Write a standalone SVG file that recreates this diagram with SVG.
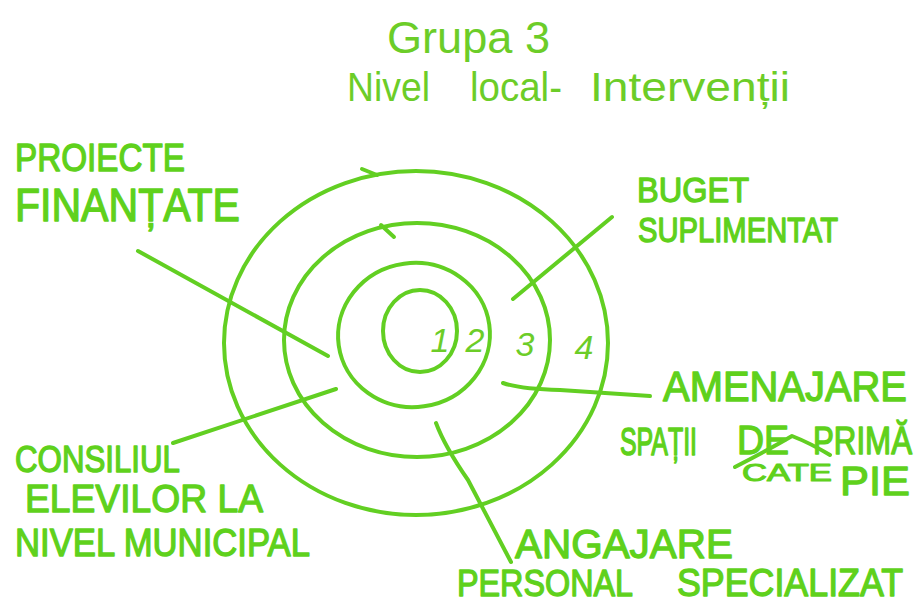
<svg xmlns="http://www.w3.org/2000/svg" width="914" height="605" viewBox="0 0 914 605">
  <style>
    .ring { fill: none; stroke: #62cf22; stroke-width: 4; stroke-linecap: round; }
    .wire { fill: none; stroke: #62cf22; stroke-width: 4; stroke-linecap: round; stroke-linejoin: round; }
    .cap { font-family: "Liberation Sans", "DejaVu Sans", sans-serif; fill: #5fd11c; stroke: #5fd11c; stroke-width: 1.3; stroke-linejoin: round; vector-effect: non-scaling-stroke; }
    .title { font-family: "Liberation Sans", "DejaVu Sans", sans-serif; fill: #6ccd28; }
    .num { font-family: "Liberation Sans", "DejaVu Sans", sans-serif; font-size: 34px; fill: #6ccd28; font-style: italic; text-anchor: middle; }
  </style>
  <rect width="914" height="605" fill="#ffffff"/>

  <!-- heading -->
  <g id="heading">
    <text class="title" x="387" y="53" font-size="44" textLength="163" lengthAdjust="spacingAndGlyphs">Grupa 3</text>
    <text class="title" x="347" y="101" font-size="40" textLength="83" lengthAdjust="spacingAndGlyphs">Nivel</text>
    <text class="title" x="470" y="101" font-size="40" textLength="92" lengthAdjust="spacingAndGlyphs">local-</text>
    <text class="title" x="590" y="101" font-size="40" textLength="200" lengthAdjust="spacingAndGlyphs">Intervenții</text>
  </g>

  <!-- concentric levels 1..4 -->
  <g id="rings">
    <g id="ring-4">
      <ellipse class="ring" cx="416" cy="343" rx="192" ry="172"/>
      <path class="ring" d="M362,169 L377,175"/>
    </g>
    <g id="ring-3">
      <ellipse class="ring" cx="417" cy="340" rx="133" ry="117"/>
      <path class="ring" d="M381,225 L394,237"/>
    </g>
    <g id="ring-2">
      <ellipse class="ring" cx="414" cy="335" rx="76" ry="72" transform="rotate(-8 414 335)"/>
    </g>
    <g id="ring-1">
      <ellipse class="ring" cx="420" cy="331" rx="37" ry="41"/>
    </g>
    <text class="num" x="440" y="352">1</text>
    <text class="num" x="475" y="352">2</text>
    <text class="num" x="525" y="356">3</text>
    <text class="num" x="584" y="359">4</text>
  </g>

  <!-- leader lines from labels into the rings -->
  <g id="connectors">
    <path class="wire" d="M138,251 L328,356"/>
    <path class="wire" d="M173,443 L336,389"/>
    <path class="wire" d="M513,299 L612,217"/>
    <path class="wire" d="M503,383 Q520,389 560,390 L650,396"/>
    <path class="wire" d="M436,423 Q445,447 468,480 L511,562"/>
  </g>

  <g id="label-proiecte">
    <text class="cap" transform="translate(15,171) scale(1,1.2)" font-size="33" textLength="170" lengthAdjust="spacingAndGlyphs">PROIECTE</text>
    <text class="cap" transform="translate(15,221) scale(1,1.15)" font-size="40" textLength="225" lengthAdjust="spacingAndGlyphs">FINANȚATE</text>
  </g>

  <g id="label-buget">
    <text class="cap" transform="translate(637,202) scale(1,1.1)" font-size="32.5" textLength="112" lengthAdjust="spacingAndGlyphs">BUGET</text>
    <text class="cap" transform="translate(638,242) scale(1,1.25)" font-size="28.5" textLength="200" lengthAdjust="spacingAndGlyphs">SUPLIMENTAT</text>
  </g>

  <g id="label-amenajare">
    <text class="cap" transform="translate(663,401) scale(1,1.06)" font-size="39.5" textLength="244" lengthAdjust="spacingAndGlyphs">AMENAJARE</text>
    <text class="cap" transform="translate(620,455) scale(1,1.6)" font-size="24" textLength="77" lengthAdjust="spacingAndGlyphs">SPAȚII</text>
    <text class="cap" transform="translate(737,454) scale(1,1.09)" font-size="37" textLength="52" lengthAdjust="spacingAndGlyphs">DE</text>
    <text class="cap" transform="translate(813,454) scale(1,1.25)" font-size="31" textLength="99" lengthAdjust="spacingAndGlyphs">PRIMĂ</text>
    <path class="wire" d="M735,467 Q770,449 792,436 Q810,443 830,455"/>
    <text class="cap" transform="translate(742,481) scale(1,0.72)" font-size="33" textLength="90" lengthAdjust="spacingAndGlyphs">CATE</text>
    <text class="cap" transform="translate(840,495) scale(1,0.95)" font-size="43" textLength="70" lengthAdjust="spacingAndGlyphs">PIE</text>
  </g>

  <g id="label-consiliul">
    <text class="cap" transform="translate(15,472) scale(1,1.2)" font-size="31" textLength="165" lengthAdjust="spacingAndGlyphs">CONSILIUL</text>
    <text class="cap" transform="translate(25,512) scale(1,1.05)" font-size="37" textLength="238" lengthAdjust="spacingAndGlyphs">ELEVILOR LA</text>
    <text class="cap" transform="translate(15,556) scale(1,1.15)" font-size="34" textLength="295" lengthAdjust="spacingAndGlyphs">NIVEL MUNICIPAL</text>
  </g>

  <g id="label-angajare">
    <text class="cap" transform="translate(515,558) scale(1,1.02)" font-size="40" textLength="218" lengthAdjust="spacingAndGlyphs">ANGAJARE</text>
    <text class="cap" transform="translate(457,596) scale(1,1.18)" font-size="32" textLength="176" lengthAdjust="spacingAndGlyphs">PERSONAL</text>
    <text class="cap" transform="translate(677,596) scale(1,1.1)" font-size="35" textLength="226" lengthAdjust="spacingAndGlyphs">SPECIALIZAT</text>
  </g>
</svg>
